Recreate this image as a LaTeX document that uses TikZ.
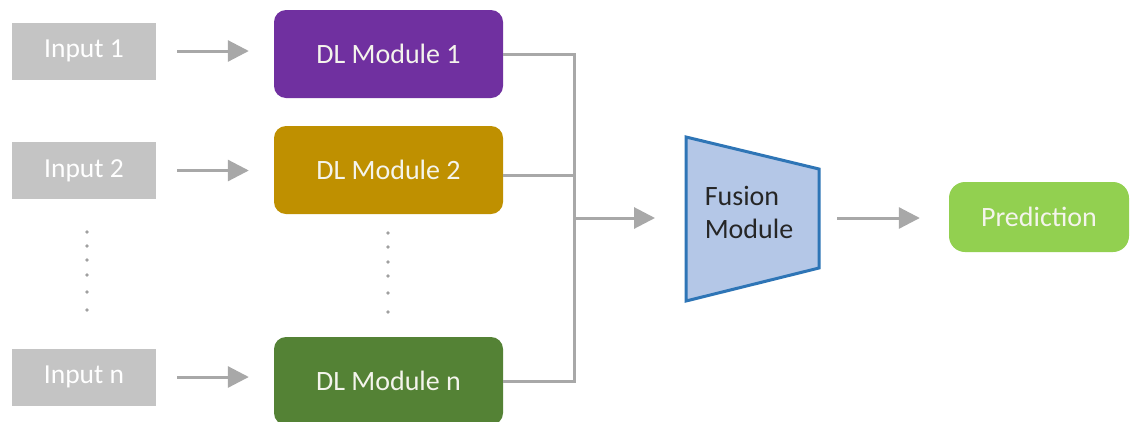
\documentclass[tikz,border=0pt]{standalone}
\usepackage{fontspec}
\setmainfont{Carlito}
\usetikzlibrary{arrows.meta,calc}

\definecolor{inputgray}{HTML}{C4C4C4}
\definecolor{linegray}{HTML}{A8A8A8}
\definecolor{dotgray}{HTML}{A0A0A0}
\definecolor{modpurple}{HTML}{7030A0}
\definecolor{modgold}{HTML}{BF9000}
\definecolor{modgreen}{HTML}{548235}
\definecolor{predgreen}{HTML}{92D050}
\definecolor{fusionfill}{HTML}{B4C7E7}
\definecolor{fusionedge}{HTML}{2E75B6}
\definecolor{lighttext}{HTML}{F4F4EC}

\tikzset{
  inputbox/.style={fill=inputgray, text=white, minimum width=144pt, minimum height=57pt,
    inner sep=0pt, font=\fontsize{27.5}{32}\selectfont},
  modulebox/.style={rounded corners=12pt, text=lighttext, minimum width=229pt, minimum height=88pt,
    inner sep=0pt, font=\fontsize{28}{32}\selectfont},
  predbox/.style={rounded corners=16pt, fill=predgreen, text=lighttext, minimum width=180pt,
    minimum height=70pt, inner sep=0pt, font=\fontsize{28}{32}\selectfont},
  fusionshape/.style={fill=fusionfill, draw=fusionedge, line width=3pt, line join=miter},
  fusiontext/.style={align=left, text=black!85, inner sep=0pt, font=\fontsize{28}{33}\selectfont},
  flow/.style={draw=linegray, line width=3pt,
    -{Triangle[length=21pt,width=21pt]}},
  bus/.style={draw=linegray, line width=3pt},
  dotmark/.style={fill=dotgray, draw=none}
}

\begin{document}
\begin{tikzpicture}[x=1pt, y=-1pt]
  \useasboundingbox (0,0) rectangle (1131,421);
  \fill[white] (0,0) rectangle (1131,421);

  % inputs
  \node[inputbox] (in1) at (84,51)    {Input 1};
  \node[inputbox] (in2) at (84,170.5) {Input 2};
  \node[inputbox] (inn) at (84,377)   {Input n};

  % deep learning modules
  \node[modulebox, fill=modpurple] (m1) at (388.5,54)  {DL Module 1};
  \node[modulebox, fill=modgold]   (m2) at (388.5,170) {DL Module 2};
  \node[modulebox, fill=modgreen]  (mn) at (388.5,381) {DL Module n};

  % vertical ellipsis dots
  \foreach \y in {232,246,260,275,292,310}
    \fill[dotmark] (87,\y) circle (1.9pt);
  \foreach \y in {233,247,262,276,293,312}
    \fill[dotmark] (388,\y) circle (1.9pt);

  % fusion module: trapezoid with its label on top
  \coordinate (ftl) at (686,137);
  \coordinate (fbl) at (686,301);
  \coordinate (ftr) at (819,169);
  \coordinate (fbr) at (819,268);
  \path[fusionshape] (ftl) -- (ftr) -- (fbr) -- (fbl) -- cycle;
  \node[fusiontext] (fusion) at (749,212) {Fusion\\Module};
  \coordinate (fin)  at (686,218);
  \coordinate (fout) at (819,218);

  % prediction
  \node[predbox] (pred) at (1039,217) {Prediction};

  % input arrows
  \draw[flow, shorten <=21pt, shorten >=25pt] (in1.east) -- (in1.east -| m1.west);
  \draw[flow, shorten <=21pt, shorten >=25pt] (in2.east) -- (in2.east -| m2.west);
  \draw[flow, shorten <=21pt, shorten >=25pt] (inn.east) -- (inn.east -| mn.west);

  % collecting bus
  \coordinate (bus) at (574,218);
  \draw[bus, line join=miter] (m1.east) -- (m1.east -| bus) -- (mn.east -| bus) -- (mn.east);
  \draw[bus] ([yshift=-5pt]m2.east) -- ([yshift=-5pt]m2.east -| bus);

  % into and out of the fusion module
  \draw[flow, shorten >=31pt] (bus) -- (fin);
  \draw[flow, shorten <=18pt, shorten >=29pt] (fout) -- (fout -| pred.west);
\end{tikzpicture}
\end{document}
